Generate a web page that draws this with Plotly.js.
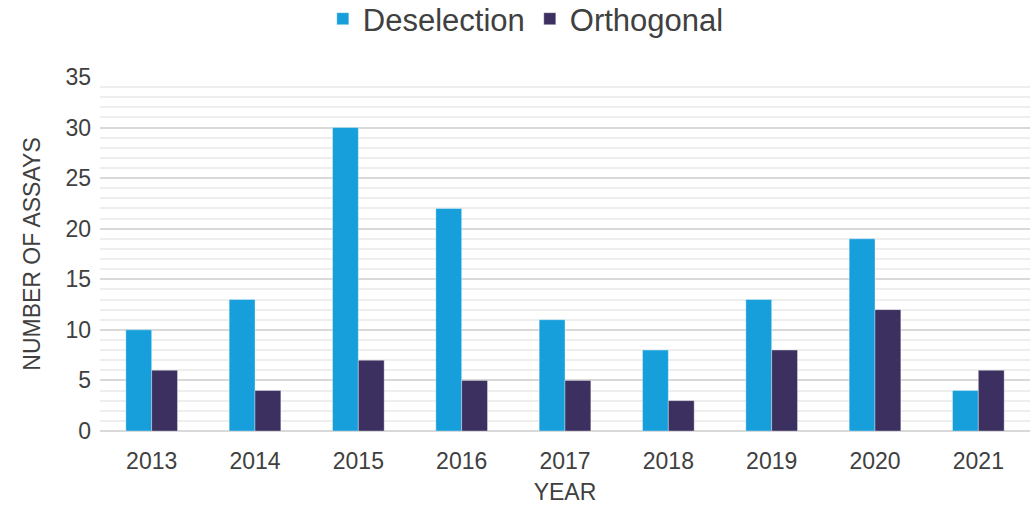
<!DOCTYPE html>
<html><head><meta charset="utf-8">
<script src="https://cdn.plot.ly/plotly-3.0.1.min.js"></script>
<style>html,body{margin:0;padding:0;background:#fff}</style>
</head><body><div id="chart" style="width:1031px;height:505px"></div>
<script>
const years = ['2013','2014','2015','2016','2017','2018','2019','2020','2021'];
const deselection = [10,13,30,22,11,8,13,19,4];
const orthogonal = [6,4,7,5,5,3,8,12,6];
const yTicks = [0,5,10,15,20,25,30,35];

const font = {family:'Liberation Sans, Arial, sans-serif', color:'#404040'};
const data = [
  {type:'bar', name:'Deselection', x:years, y:deselection, marker:{color:'#179fdb', line:{color:'rgba(255,255,255,0.35)', width:1}}},
  {type:'bar', name:'Orthogonal', x:years, y:orthogonal, marker:{color:'#3b3060', line:{color:'rgba(255,255,255,0.35)', width:1}}}
];
const layout = {
  width:1031, height:505,
  margin:{l:100, r:1, t:77, b:74, autoexpand:false},
  paper_bgcolor:'#fff', plot_bgcolor:'#fff',
  font:Object.assign({size:23}, font),
  barmode:'group', bargap:0.5, bargroupgap:0,
  showlegend:true,
  legend:{orientation:'h', xref:'container', yref:'paper', x:0.51, y:1.24, xanchor:'center', yanchor:'top',
    font:Object.assign({size:31}, font), itemwidth:30, traceorder:'normal'},
  xaxis:{type:'category', tickfont:Object.assign({size:23}, font), ticks:'', showgrid:false, zeroline:false,
    showline:false, ticklabelstandoff:14, title:{text:'YEAR', font:Object.assign({size:23}, font), standoff:10}},
  yaxis:{range:[0,35], tickvals:yTicks, ticktext:yTicks.map(String), tickfont:Object.assign({size:23}, font),
    gridcolor:'#d9d9d9', gridwidth:2, zeroline:true, zerolinecolor:'#d9d9d9', zerolinewidth:2, ticks:'', ticklen:0,
    ticklabelstandoff:8,
    minor:{dtick:1, showgrid:true, gridcolor:'#eeeeee', gridwidth:2},
    title:{text:'NUMBER OF ASSAYS', font:Object.assign({size:23}, font), standoff:18}}
};
Plotly.newPlot('chart', data, layout, {displayModeBar:false, responsive:false});
</script></body></html>
